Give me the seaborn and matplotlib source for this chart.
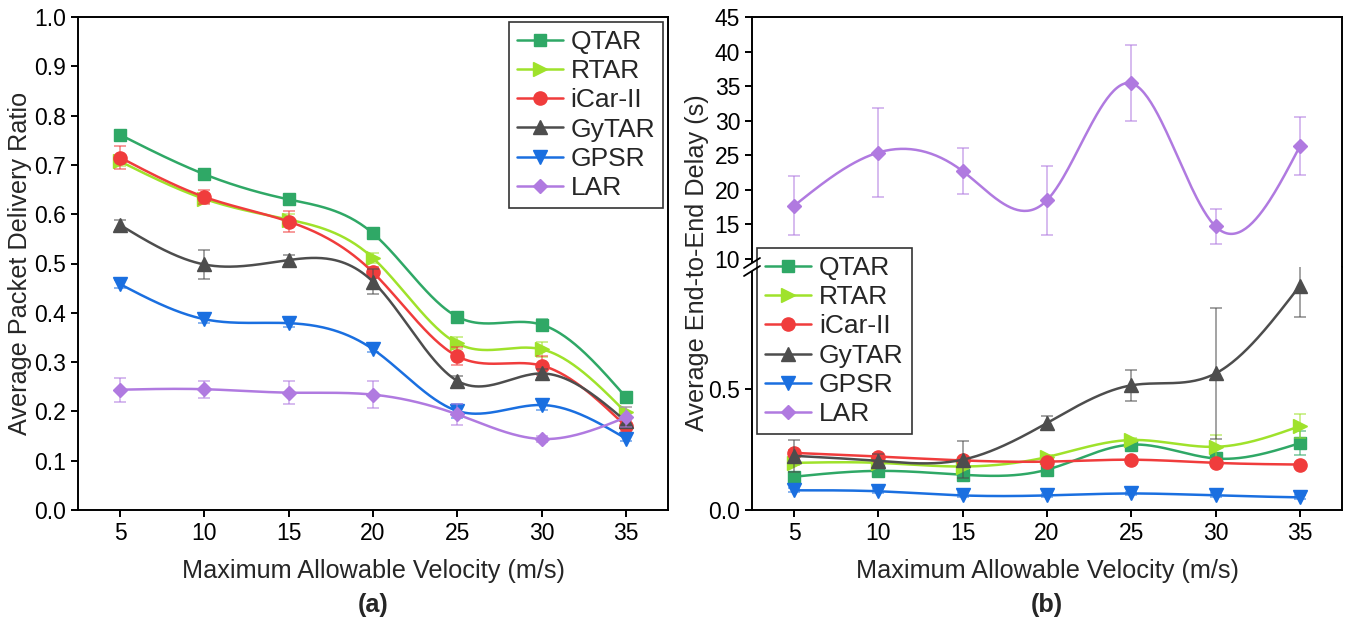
import numpy as np
import pandas as pd
import matplotlib.pyplot as plt
from matplotlib.lines import Line2D
import seaborn as sns

# velocities on the x axis
velocity = [5, 10, 15, 20, 25, 30, 35]
protocols = ['QTAR', 'RTAR', 'iCar-II', 'GyTAR', 'GPSR', 'LAR']

# (a) packet delivery ratio
pdr_qtar = [0.761, 0.681, 0.630, 0.561, 0.392, 0.376, 0.229]
pdr_rtar = [0.707, 0.631, 0.589, 0.511, 0.338, 0.326, 0.198]
pdr_icar = [0.715, 0.635, 0.585, 0.482, 0.312, 0.293, 0.170]
pdr_gytar = [0.578, 0.498, 0.507, 0.463, 0.262, 0.277, 0.180]
pdr_gpsr = [0.458, 0.387, 0.379, 0.326, 0.201, 0.213, 0.145]
pdr_lar = [0.244, 0.245, 0.238, 0.234, 0.194, 0.144, 0.188]

pdr_err_qtar = [0.006, 0.006, 0.006, 0.007, 0.006, 0.012, 0.008]
pdr_err_rtar = [0.010, 0.008, 0.012, 0.010, 0.012, 0.015, 0.010]
pdr_err_icar = [0.024, 0.015, 0.022, 0.010, 0.018, 0.020, 0.012]
pdr_err_gytar = [0.010, 0.030, 0.010, 0.025, 0.010, 0.010, 0.008]
pdr_err_gpsr = [0.008, 0.008, 0.008, 0.006, 0.015, 0.010, 0.006]
pdr_err_lar = [0.024, 0.017, 0.023, 0.028, 0.022, 0.006, 0.020]

# (b) end-to-end delay (s)
delay_qtar = [0.137, 0.161, 0.145, 0.166, 0.269, 0.212, 0.275]
delay_rtar = [0.194, 0.194, 0.179, 0.218, 0.288, 0.260, 0.345]
delay_icar = [0.235, 0.220, 0.204, 0.199, 0.207, 0.194, 0.187]
delay_gytar = [0.223, 0.202, 0.207, 0.358, 0.513, 0.562, 0.923]
delay_gpsr = [0.081, 0.077, 0.060, 0.060, 0.068, 0.060, 0.052]
delay_lar = [17.7, 25.4, 22.7, 18.5, 35.4, 14.7, 26.3]

delay_err_qtar = [0.010, 0.010, 0.010, 0.008, 0.010, 0.015, 0.050]
delay_err_rtar = [0.010, 0.010, 0.010, 0.010, 0.010, 0.050, 0.050]
delay_err_icar = [0.010, 0.010, 0.010, 0.008, 0.008, 0.008, 0.008]
delay_err_gytar = [0.065, 0.030, 0.076, 0.030, 0.063, 0.270, 0.130]
delay_err_gpsr = [0.008, 0.008, 0.008, 0.006, 0.008, 0.008, 0.008]
delay_err_lar = [4.3, 6.4, 3.3, 5.0, 5.5, 2.6, 4.2]

colors = ['#2fa866', '#9fe22b', '#f03c3c', '#4d4d4d', '#1a6fe0', '#b07ae0']
markers = ['s', '>', 'o', '^', 'v', 'D']
msizes = [8.5, 9.5, 9.5, 9.5, 9.5, 7.5]

pdr = [pdr_qtar, pdr_rtar, pdr_icar, pdr_gytar, pdr_gpsr, pdr_lar]
pdr_err = [pdr_err_qtar, pdr_err_rtar, pdr_err_icar, pdr_err_gytar, pdr_err_gpsr, pdr_err_lar]
delay = [delay_qtar, delay_rtar, delay_icar, delay_gytar, delay_gpsr, delay_lar]
delay_err = [delay_err_qtar, delay_err_rtar, delay_err_icar, delay_err_gytar, delay_err_gpsr, delay_err_lar]


def spline(x, y, n=300):
    # natural cubic spline through the points, only for drawing the smooth line
    x = np.asarray(x, float)
    y = np.asarray(y, float)
    k = len(x)
    h = np.diff(x)
    A = np.zeros((k, k))
    b = np.zeros(k)
    A[0, 0] = A[-1, -1] = 1
    for i in range(1, k - 1):
        A[i, i - 1] = h[i - 1]
        A[i, i] = 2 * (h[i - 1] + h[i])
        A[i, i + 1] = h[i]
        b[i] = 3 * ((y[i + 1] - y[i]) / h[i] - (y[i] - y[i - 1]) / h[i - 1])
    c = np.linalg.solve(A, b)
    xs = np.linspace(x[0], x[-1], n)
    idx = np.clip(np.searchsorted(x, xs) - 1, 0, k - 2)
    dx = xs - x[idx]
    bc = (y[1:] - y[:-1]) / h - h * (2 * c[:-1] + c[1:]) / 3
    dc = (c[1:] - c[:-1]) / (3 * h)
    return xs, y[idx] + bc[idx] * dx + c[idx] * dx ** 2 + dc[idx] * dx ** 3


def draw(ax, ys, errs, color, marker, ms):
    xs, sm = spline(velocity, ys)
    sns.lineplot(x=xs, y=sm, ax=ax, color=color, lw=1.8, sort=False, legend=False)
    ax.errorbar(velocity, ys, yerr=errs, fmt='none', ecolor=color, elinewidth=1.1,
                capsize=4, capthick=1.1, alpha=0.65)
    ax.plot(velocity, ys, ls='none', marker=marker, ms=ms, color=color, mec=color)


sns.set_theme(style='ticks')
plt.rcParams['font.family'] = ['Liberation Sans', 'DejaVu Sans']
plt.rcParams['axes.linewidth'] = 1.4
plt.rcParams['xtick.major.width'] = 1.4
plt.rcParams['ytick.major.width'] = 1.4
plt.rcParams['xtick.major.size'] = 5
plt.rcParams['ytick.major.size'] = 5
plt.rcParams['axes.edgecolor'] = 'black'

W, H = 1350, 620
fig = plt.figure(figsize=(13.5, 6.2), dpi=100)


def rect(l, t, r, b):
    return [l / W, 1 - b / H, (r - l) / W, (b - t) / H]


TICK = 16.5
LABEL = 18.2
handles = [Line2D([], [], color=c, marker=m, ms=s, lw=1.8) for c, m, s in zip(colors, markers, msizes)]
leg_kw = dict(frameon=True, fancybox=False, edgecolor='black', fontsize=19, handlelength=1.75,
              handletextpad=0.3, labelspacing=0.2, borderpad=0.3, borderaxespad=0)

# ---- (a)
ax1 = fig.add_axes(rect(78, 17, 668, 510))
for i in range(6):
    draw(ax1, pdr[i], pdr_err[i], colors[i], markers[i], msizes[i])
ax1.set_xlim(2.5, 37.5)
ax1.set_ylim(0, 1.0)
ax1.set_xticks(velocity)
ax1.set_yticks(np.arange(0, 1.01, 0.1))
ax1.set_yticklabels([f'{v:.1f}' for v in np.arange(0, 1.01, 0.1)])
ax1.tick_params(labelsize=TICK, color='black', labelcolor='black')
ax1.set_xlabel('Maximum Allowable Velocity (m/s)', fontsize=LABEL, labelpad=10)
ax1.set_ylabel('Average Packet Delivery Ratio', fontsize=LABEL, labelpad=2)
leg1 = ax1.legend(handles, protocols, loc='upper right', bbox_to_anchor=(0.992, 0.99), **leg_kw)
leg1.get_frame().set_linewidth(1.2)
fig.text(373 / W, 1 - 605 / H, '(a)', ha='center', va='center', fontsize=LABEL, fontweight='bold')

# ---- (b) broken y axis
brk = 267
ax_top = fig.add_axes(rect(752, 17, 1342, brk))
ax_bot = fig.add_axes(rect(752, brk, 1342, 510))
for i in range(6):
    target = ax_top if protocols[i] == 'LAR' else ax_bot
    draw(target, delay[i], delay_err[i], colors[i], markers[i], msizes[i])
ax_top.set_ylim(8.84, 45)
ax_top.set_yticks(range(10, 46, 5))
ax_bot.set_ylim(0, 1.0)
ax_bot.set_yticks([0, 0.5])
ax_bot.set_yticklabels(['0.0', '0.5'])
for a in (ax_top, ax_bot):
    a.set_xlim(2.5, 37.5)
    a.tick_params(labelsize=TICK, color='black', labelcolor='black')
ax_top.spines['bottom'].set_visible(False)
ax_top.tick_params(axis='x', bottom=False, labelbottom=False)
ax_bot.spines['top'].set_visible(False)
ax_bot.set_xticks(velocity)
ax_bot.set_xlabel('Maximum Allowable Velocity (m/s)', fontsize=LABEL, labelpad=10)
fig.text(697 / W, 1 - 263 / H, 'Average End-to-End Delay (s)', rotation=90,
         ha='center', va='center', fontsize=LABEL)

# break marks on the left spine
x0, y0 = 752 / W, 1 - brk / H
fig.patches.append(plt.Rectangle((x0 - 4 / W, y0 - 4 / H), 8 / W, 8 / H, transform=fig.transFigure,
                                 facecolor='white', edgecolor='none', zorder=5))
for dy in (-4, 4):
    fig.add_artist(Line2D([x0 - 8 / W, x0 + 8 / W], [y0 + (dy - 5) / H, y0 + (dy + 5) / H],
                          transform=fig.transFigure, color='black', lw=1.3, zorder=6))

leg2 = ax_bot.legend(handles, protocols, loc='upper left', bbox_to_anchor=(757 / W, 1 - 248 / H),
                     bbox_transform=fig.transFigure, **leg_kw)
leg2.get_frame().set_linewidth(1.2)
leg2.set_zorder(10)
fig.text(1047 / W, 1 - 605 / H, '(b)', ha='center', va='center', fontsize=LABEL, fontweight='bold')

fig.savefig('out.png', dpi=100)
